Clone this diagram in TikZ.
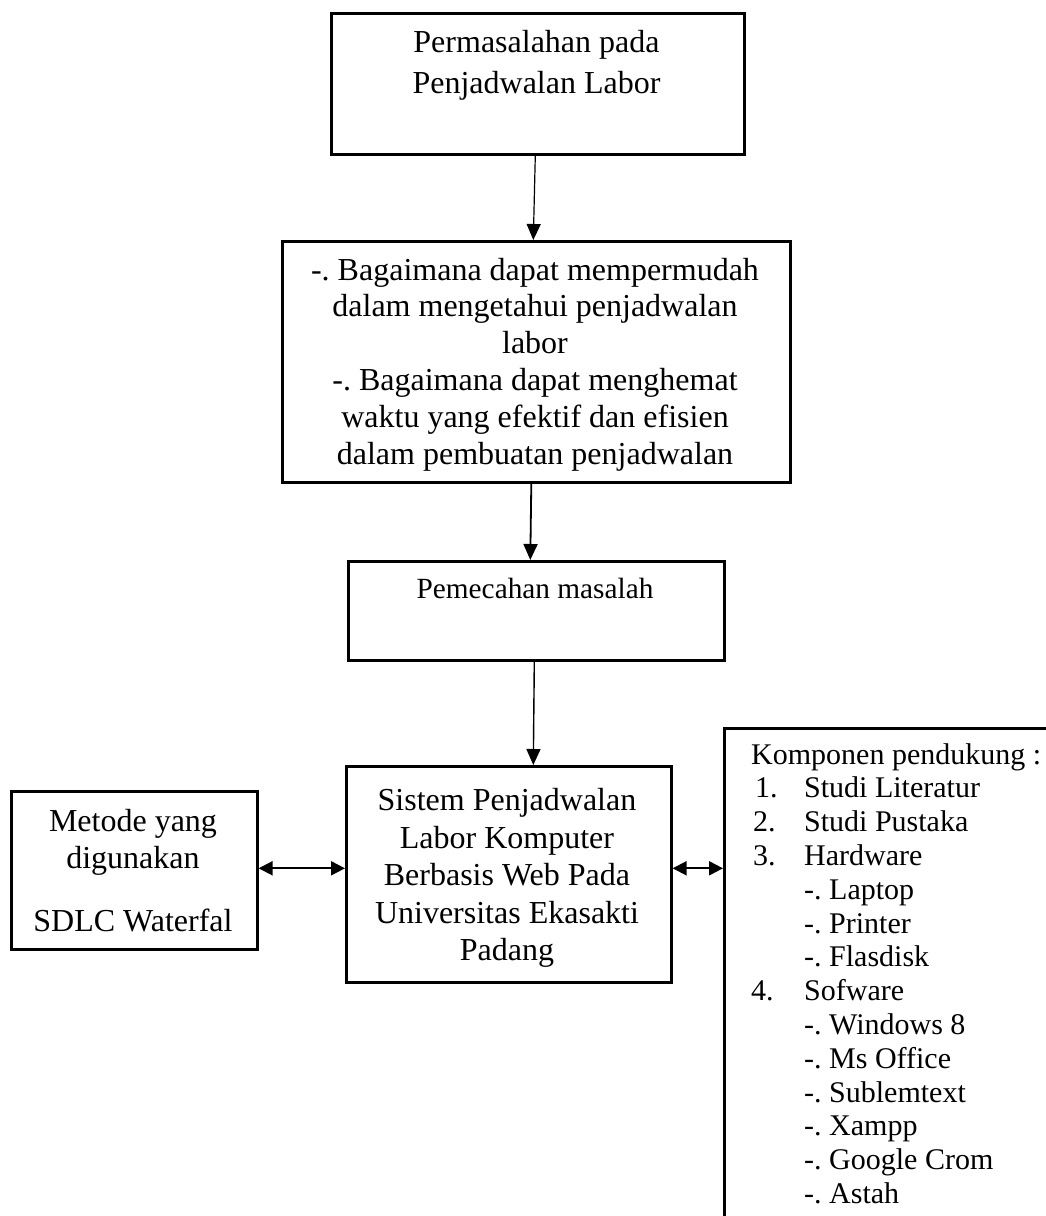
\documentclass[tikz,border=0pt]{standalone}
\usepackage{fontspec}
\setmainfont{Liberation Serif}
\usetikzlibrary{arrows.meta}
\begin{document}
\frenchspacing
\begin{tikzpicture}[x=1pt,y=-1pt,
  box/.style={draw,line width=2.6pt,inner sep=0pt,anchor=north west},
  txt/.style={inner sep=0pt,anchor=base},
  big/.style={font=\frenchspacing\fontsize{32}{36.8}\selectfont},
  arr/.style={line width=1.4pt,-{Triangle[length=16pt,width=14pt]}},
  darr/.style={line width=2pt,{Triangle[length=14pt,width=14pt]}-{Triangle[length=14pt,width=14pt]}}
]
\useasboundingbox (0,0) rectangle (1046,1216);
\clip (0,0) rectangle (1046,1216);

% boxes
\node[box,minimum width=413pt,minimum height=141pt] (b1) at (330,12) {};
\node[box,minimum width=508pt,minimum height=241pt] (b2) at (281,240) {};
\node[box,minimum width=376pt,minimum height=99pt] (b3) at (347,560) {};
\node[box,minimum width=325pt,minimum height=216pt] (b4) at (345,765) {};
\node[box,minimum width=246pt,minimum height=158pt] (bl) at (10,790) {};
\node[box,minimum width=340pt,minimum height=520pt] (bk) at (723,727) {};

% texts
\node[txt,font=\fontsize{32}{41}\selectfont] (t1) at (536.5,52) {\begin{tabular}[t]{@{}c@{}}Permasalahan pada\\Penjadwalan Labor\end{tabular}};
\node[txt,big] (t2) at (535,280) {\begin{tabular}[t]{@{}c@{}}-. Bagaimana dapat mempermudah\\dalam mengetahui penjadwalan\\labor\\-. Bagaimana dapat menghemat\\waktu yang efektif dan efisien\\dalam pembuatan penjadwalan\end{tabular}};
\node[txt,font=\fontsize{29.3}{34}\selectfont] (t3) at (535,598) {Pemecahan masalah};
\node[txt,font=\fontsize{32}{37.5}\selectfont] (t4) at (507,810.5) {\begin{tabular}[t]{@{}c@{}}Sistem Penjadwalan\\Labor Komputer\\Berbasis Web Pada\\Universitas Ekasakti\\Padang\end{tabular}};
\node[txt,font=\fontsize{32}{37}\selectfont] (tl) at (133,831) {\begin{tabular}[t]{@{}c@{}}Metode yang\\digunakan\\[26pt]SDLC Waterfal\end{tabular}};
\node[inner sep=0pt,anchor=base west,font=\frenchspacing\fontsize{30}{33.8}\selectfont] (tk) at (751,764) {\begin{tabular}[t]{@{}l@{}}
Komponen pendukung :\\
\makebox[53pt][l]{\hspace*{4pt}1.}Studi Literatur\\
\makebox[53pt][l]{\hspace*{2pt}2.}Studi Pustaka\\
\makebox[53pt][l]{\hspace*{2pt}3.}Hardware\\
\makebox[53pt][l]{}-. Laptop\\
\makebox[53pt][l]{}-. Printer\\
\makebox[53pt][l]{}-. Flasdisk\\
\makebox[53pt][l]{\hspace*{0pt}4.}Sofware\\
\makebox[53pt][l]{}-. Windows 8\\
\makebox[53pt][l]{}-. Ms Office\\
\makebox[53pt][l]{}-. Sublemtext\\
\makebox[53pt][l]{}-. Xampp\\
\makebox[53pt][l]{}-. Google Crom\\
\makebox[53pt][l]{}-. Astah
\end{tabular}};

% connectors
\draw[arr,line width=1.2pt] ([xshift=-2.5pt]b1.south) -- ([xshift=-3pt]b2.north);
\draw[arr,line width=1.8pt] ([xshift=-5pt]b2.south) -- ([xshift=-6pt]b3.north);
\draw[arr] ([xshift=-2pt]b3.south) -- ([xshift=24.5pt]b4.north);
\draw[darr] ([yshift=2pt]bl.east) -- ([yshift=6pt]b4.west);
\draw[darr] ([yshift=6pt]b4.east) -- ([yshift=120pt]bk.west);
\end{tikzpicture}
\end{document}
